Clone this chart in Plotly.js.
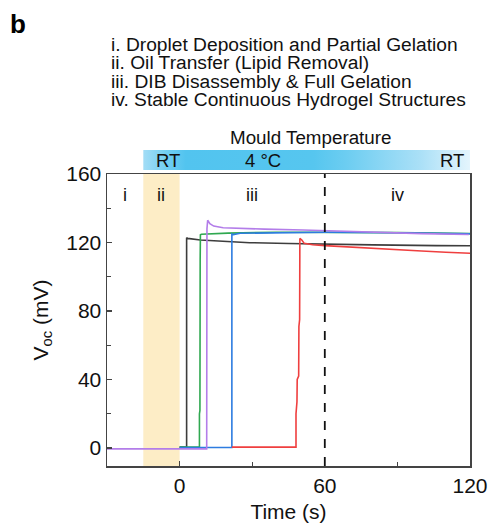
<!DOCTYPE html>
<html>
<head>
<meta charset="utf-8">
<script src="https://cdn.plot.ly/plotly-3.0.1.min.js"></script>
<style>html,body{margin:0;padding:0;background:#fff;}#chart{width:493px;height:526px;}</style>
</head>
<body>
<div id="chart"></div>
<script>
// ---- data (time in s, Voc in mV) ----
const blackT = [0, 2.9, 2.9, 3.3, 8.6, 20, 29, 45, 60.7, 80, 106, 120];
const blackV = [0.5, 0.5, 122.8, 122.4, 121.5, 120.5, 119.9, 119.4, 118.9, 118.6, 118.2, 118.1];

const greenT = [0, 8.2, 8.2, 8.4, 8.5, 8.6, 9.0, 12, 20, 40, 60, 90, 120];
const greenV = [0.5, 0.5, 20, 22, 110, 124.5, 124.8, 125.0, 125.5, 126.0, 126.0, 125.8, 125.2];

const blueT = [0, 21.6, 21.6, 22.2, 25, 40, 60, 90, 120];
const blueV = [0.3, 0.3, 125.0, 124.6, 125.4, 125.8, 126.0, 125.7, 125.1];

const redT = [21.6, 48.1, 48.1, 48.5, 48.6, 49.2, 49.3, 49.6, 49.7, 50.5, 51.5, 55, 60, 70, 80, 90, 100, 110, 120];
const redV = [0.5, 0.5, 20, 27, 40, 42, 71, 75, 122.4, 121.5, 119.5, 118.7, 118.2, 117.3, 116.5, 115.8, 115.0, 114.3, 113.7];

const purpleT = [-30, 11.2, 11.3, 11.6, 12.5, 14.1, 18, 23.7, 35, 51, 65, 82.5, 100, 119.5];
const purpleV = [-0.5, -0.5, 128, 133, 131, 129.6, 128.6, 128.3, 127.8, 127.3, 126.6, 125.7, 125.2, 124.7];

// stage labels
const stageNames = ['i', 'ii', 'iii', 'iv'];
const stageX = [-22.5, -7.5, 30, 90];
const stageY = [147.7, 147.7, 147.7, 147.7];

// stage boundaries
const oilStart = -15, oilEnd = 0, dashT = 60;

// temperature bar
const tempBarT = [-15, 120];
const tempLabels = ['RT', '4 °C', 'RT'];
const tempLabelT = [-4.7, 34.5, 112.4];
const tempStops = [[0, '#a3ddf6'], [0.07, '#72cff2'], [0.13, '#52c4ef'], [0.52, '#56c6ef'], [0.62, '#6ccdf1'], [0.85, '#abe0f7'], [1, '#e4f5fd']];

const legendLines = [
  'i. Droplet Deposition and Partial Gelation',
  'ii. Oil Transfer (Lipid Removal)',
  'iii. DIB Disassembly &amp; Full Gelation',
  'iv. Stable Continuous Hydrogel Structures'
];

const FONT = '"Liberation Sans", Arial, sans-serif';
const lw = 1.6;

const traces = [
  {x: blackT, y: blackV, mode: 'lines', line: {color: '#3d3d3d', width: lw}},
  {x: greenT, y: greenV, mode: 'lines', line: {color: '#2fa850', width: lw}},
  {x: blueT, y: blueV, mode: 'lines', line: {color: '#2d7ce0', width: lw}},
  {x: redT, y: redV, mode: 'lines', line: {color: '#ef3f3f', width: lw}},
  {x: purpleT, y: purpleV, mode: 'lines', line: {color: '#b37de9', width: lw}},
  {x: [tempBarT[0], tempBarT[1], tempBarT[1], tempBarT[0], tempBarT[0]], y: [0, 0, 1, 1, 0],
   xaxis: 'x', yaxis: 'y2', mode: 'lines', line: {width: 0}, fill: 'toself',
   fillgradient: {type: 'horizontal', start: tempBarT[0], stop: tempBarT[1], colorscale: tempStops},
   hoverinfo: 'skip'}
];

const annotations = [];
legendLines.forEach((t, i) => {
  annotations.push({xref: 'paper', yref: 'paper', x: 0.006, y: [1.334, 1.276, 1.218, 1.160][i],
    xanchor: 'left', yanchor: 'middle', text: t, showarrow: false,
    font: {family: FONT, size: 19.2, color: '#111'}});
});
annotations.push({xref: 'paper', yref: 'paper', x: -0.272, y: 1.40, xanchor: 'left', yanchor: 'middle',
  text: '<b>b</b>', showarrow: false, font: {family: FONT, size: 26, color: '#000'}});
annotations.push({xref: 'paper', yref: 'paper', x: 0.56, y: 1.041, xanchor: 'center', yanchor: 'middle',
  text: 'Mould Temperature', showarrow: false, font: {family: FONT, size: 18.8, color: '#111'}});
stageNames.forEach((s, i) => {
  annotations.push({xref: 'x', yref: 'y', x: stageX[i], y: stageY[i], text: s, showarrow: false,
    font: {family: FONT, size: 18, color: '#111'}});
});
tempLabels.forEach((s, i) => {
  annotations.push({xref: 'x', yref: 'y2', x: tempLabelT[i], y: 0.5, text: s, showarrow: false,
    font: {family: FONT, size: 18.5, color: '#111'}});
});

const layout = {
  width: 493, height: 526,
  margin: {l: 107, r: 23, t: 150, b: 60},
  paper_bgcolor: '#fff', plot_bgcolor: '#fff',
  showlegend: false,
  font: {family: FONT, size: 21, color: '#111'},
  xaxis: {
    range: [-30, 120], tickvals: [0, 60, 120], ticks: 'inside', ticklen: 5, tickwidth: 1.3, tickcolor: '#444',
    showline: true, linecolor: '#444', linewidth: 1.5, mirror: true, zeroline: false, showgrid: false,
    tickfont: {family: FONT, size: 21, color: '#111'},
    minor: {tickvals: [30, 90], ticks: 'inside', ticklen: 4, tickwidth: 1.2, tickcolor: '#444', showgrid: false},
    title: {text: 'Time (s)', font: {family: FONT, size: 21, color: '#111'}, standoff: 8},
    anchor: 'y'
  },
  yaxis: {
    domain: [0, 0.924], range: [-10.5, 160], tickvals: [0, 40, 80, 120, 160], ticks: 'inside', ticklen: 5,
    tickwidth: 1.3, tickcolor: '#444',
    showline: true, linecolor: '#444', linewidth: 1.5, mirror: true, zeroline: false, showgrid: false,
    tickfont: {family: FONT, size: 21, color: '#111'},
    minor: {tickvals: [20, 60, 100, 140], ticks: 'inside', ticklen: 4, tickwidth: 1.2, tickcolor: '#444', showgrid: false},
    title: {text: 'V<sub>oc</sub> (mV)', font: {family: FONT, size: 21, color: '#111'}, standoff: 12}
  },
  yaxis2: {domain: [0.9367, 1], range: [0, 1], visible: false, anchor: 'x', fixedrange: true},
  shapes: [
    {type: 'rect', xref: 'x', yref: 'y domain', x0: oilStart, x1: oilEnd, y0: 0, y1: 1,
     fillcolor: '#fdedc6', line: {width: 0}, layer: 'below'},
    {type: 'line', xref: 'x', yref: 'y domain', x0: dashT, x1: dashT, y0: 0, y1: 1,
     line: {color: '#111', width: 1.8, dash: 'dash'}}
  ],
  annotations: annotations
};

Plotly.newPlot('chart', traces, layout, {displayModeBar: false, staticPlot: true});
</script>
</body>
</html>
